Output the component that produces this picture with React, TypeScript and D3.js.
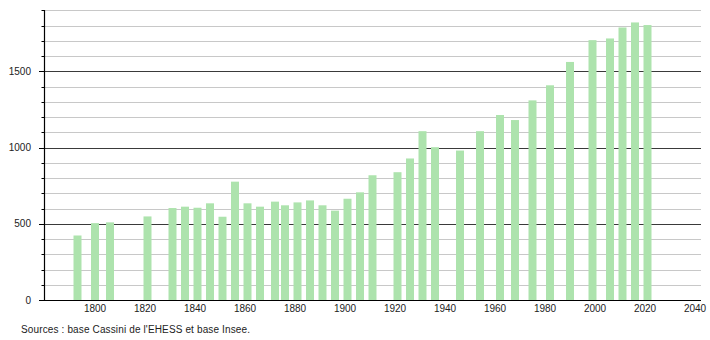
import React from "react";
import * as d3 from "d3";

const years = [1793, 1800, 1806, 1821, 1831, 1836, 1841, 1846, 1851, 1856, 1861, 1866, 1872, 1876, 1881, 1886, 1891, 1896, 1901, 1906, 1911, 1921, 1926, 1931, 1936, 1946, 1954, 1962, 1968, 1975, 1982, 1990, 1999, 2006, 2011, 2016, 2021];
const population = [423, 504, 509, 548, 603, 612, 605, 634, 546, 776, 634, 612, 645, 621, 640, 653, 621, 586, 664, 706, 818, 838, 928, 1107, 1002, 980, 1107, 1213, 1180, 1309, 1408, 1561, 1704, 1715, 1787, 1820, 1803];
const xTicks = [1800, 1820, 1840, 1860, 1880, 1900, 1920, 1940, 1960, 1980, 2000, 2020, 2040];
const yLabels = [0, 500, 1000, 1500];
const sourceText = "Sources : base Cassini de l'EHESS et base Insee.";

export default function App() {
  const W = 710, H = 340;
  const x = d3.scaleLinear().domain([1780, 2043]).range([45, 702.5]);
  const y = d3.scaleLinear().domain([0, 1900]).range([300, 10.25]);
  const left = 44, right = 701;
  const barW = 8;
  const grid = d3.range(100, 1901, 100);
  const minor = d3.range(0, 1901, 100);
  const font = "'Liberation Sans', Arial, sans-serif";
  return (
    <svg width={W} height={H} style={{ position: "absolute", left: 0, top: 0, background: "#fff" }}>
      {grid.map((g) => (
        <line key={"g" + g} x1={left} x2={right} y1={Math.round(y(g)) + 0.5} y2={Math.round(y(g)) + 0.5}
          stroke={g % 500 === 0 ? "#3a3a3a" : "#c8c8c8"} strokeWidth={1} />
      ))}
      {years.map((yr, i) => (
        <rect key={yr} x={x(yr) - barW / 2} y={y(population[i])} width={barW} height={y(0) - y(population[i])} fill="#ade3ad" />
      ))}
      {minor.map((g) => (
        <line key={"t" + g} x1={g % 500 === 0 ? 39 : 41.5} x2={left} y1={Math.round(y(g)) + 0.5} y2={Math.round(y(g)) + 0.5} stroke="#000" strokeWidth={1} />
      ))}
      <line x1={left + 0.5} x2={left + 0.5} y1={10} y2={300} stroke="#000" strokeWidth={1.2} />
      <line x1={left} x2={right} y1={300.5} y2={300.5} stroke="#000" strokeWidth={1} />
      {yLabels.map((v) => (
        <text key={"yl" + v} x={31} y={y(v) + 3.5} textAnchor="end" fontSize={10} fontFamily={font} fill="#222">{v}</text>
      ))}
      {xTicks.map((t) => (
        <text key={"xl" + t} x={x(t)} y={312} textAnchor="middle" fontSize={10} fontFamily={font} fill="#222">{t}</text>
      ))}
      <text x={21} y={333} fontSize={10} fontFamily={font} fill="#222" textLength={229} lengthAdjust="spacing">{sourceText}</text>
    </svg>
  );
}
